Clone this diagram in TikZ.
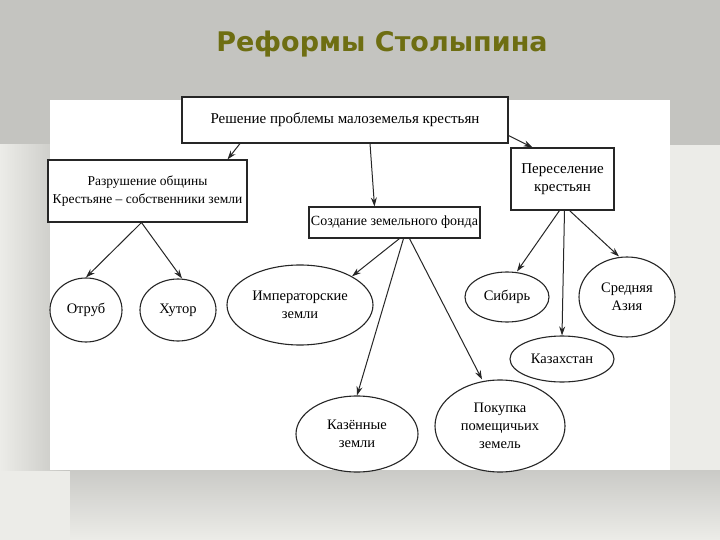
\documentclass[tikz,border=0pt]{standalone}
\usepackage{fontspec}
\setmainfont{Liberation Serif}
\newfontfamily\titlefont{DejaVu Sans}
\usetikzlibrary{shapes.geometric,arrows.meta}
\definecolor{bggray}{HTML}{C4C4C0}
\definecolor{bglight}{HTML}{ECECE8}
\definecolor{olivet}{HTML}{6E6E12}
\tikzset{
  box/.style={draw=black!85,line width=1.1pt,fill=white,align=center,font=\fontsize{15}{18}\selectfont,inner sep=0pt},
  oval/.style={draw=black!85,line width=1.1pt,ellipse,fill=white,align=center,font=\fontsize{14.5}{18}\selectfont,inner sep=0pt},
  arr/.style={-{Stealth[length=9pt,width=6pt]},line width=1pt,black!85}
}
\begin{document}
\begin{tikzpicture}[x=1pt,y=-1pt]
\useasboundingbox (0,0) rectangle (720,540);
\fill[bggray] (0,0) rectangle (720,540);
\fill[bglight] (0,145) rectangle (720,540);
\fill[left color=bglight,right color=bggray] (0,145) rectangle (70,470);
\fill[top color=bggray!90,bottom color=bglight] (70,470) rectangle (720,540);
\fill[white] (50,100) rectangle (670,470);
\node[font=\titlefont\bfseries\fontsize{27}{32}\selectfont,text=olivet] (title) at (382,44) {Реформы Столыпина};
% boxes
\node[box,minimum width=326,minimum height=46] (top) at (345,120) {Решение проблемы малоземелья крестьян};
\node[box,minimum width=199,minimum height=62,font=\fontsize{13.5}{18}\selectfont] (left) at (147.5,191) {Разрушение общины\\Крестьяне – собственники земли};
\node[box,minimum width=171,minimum height=31,font=\fontsize{14}{18}\selectfont] (mid) at (394.5,222.5) {Создание земельного фонда};
\node[box,minimum width=103,minimum height=62] (right) at (562.5,179) {Переселение\\крестьян};
% ellipses
\node[oval,minimum width=72,minimum height=64] (otrub) at (86,310) {Отруб};
\node[oval,minimum width=76,minimum height=62] (khutor) at (178,310) {Хутор};
\node[oval,minimum width=146,minimum height=80] (imp) at (300,305) {Императорские\\земли};
\node[oval,minimum width=122,minimum height=76] (kaz) at (357,434) {Казённые\\земли};
\node[oval,minimum width=130,minimum height=92] (pok) at (500,426) {Покупка\\помещичьих\\земель};
\node[oval,minimum width=84,minimum height=50] (sib) at (507,297) {Сибирь};
\node[oval,minimum width=96,minimum height=80] (asia) at (627,297) {Средняя\\Азия};
\node[oval,minimum width=104,minimum height=46] (kzh) at (562,359) {Казахстан};
% arrows
\draw[arr] ([xshift=-105pt]top.south) -- ([xshift=80pt]left.north);
\draw[arr] ([xshift=25pt]top.south) -- ([xshift=-20pt]mid.north);
\draw[arr] ([yshift=8pt]top.south east) -- ([xshift=-30pt]right.north);
\draw[arr] ([xshift=-6pt]left.south) -- (otrub.north);
\draw[arr] ([xshift=-6pt]left.south) -- ([xshift=4pt]khutor.north);
\draw[arr] ([xshift=5pt]mid.south) -- (imp.north east);
\draw[arr] ([xshift=9pt]mid.south) -- (kaz.north);
\draw[arr] ([xshift=15pt]mid.south) -- ([xshift=-18pt]pok.north);
\draw[arr] ([xshift=-3pt]right.south) -- ([xshift=10pt]sib.north);
\draw[arr] ([xshift=2pt]right.south) -- (kzh.north);
\draw[arr] ([xshift=7pt]right.south) -- ([xshift=-8pt]asia.north);
\end{tikzpicture}
\end{document}
